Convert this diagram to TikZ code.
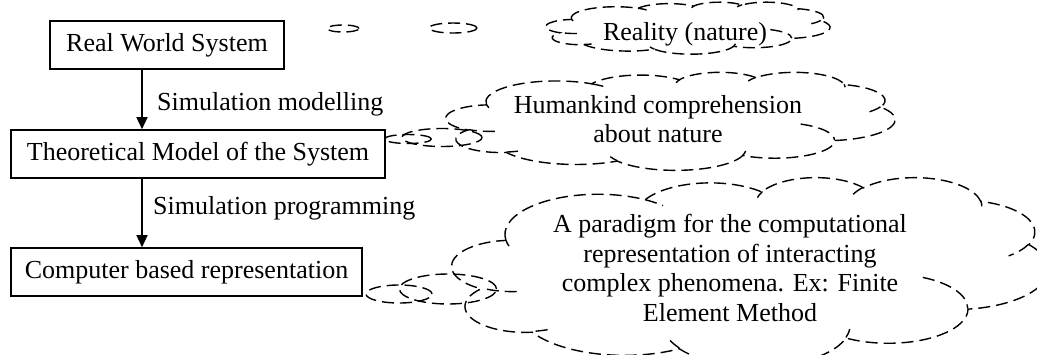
\documentclass[tikz,border=0pt]{standalone}
\usepackage{fontspec}
\setmainfont{Liberation Serif}
\usetikzlibrary{arrows.meta,shapes.geometric}

% One lobe of a cloud outline: elliptical arc with radii #1, #2 whose start and
% sweep (#3, #4, in degrees) are given as geometric angles seen from the centre.
\tikzset{
  lobe/.style n args={4}{
    x radius=#1, y radius=#2,
    start angle={atan2((#1)*sin(#3), (#2)*cos(#3))},
    delta angle={mod(atan2((#1)*sin((#3)+(#4)), (#2)*cos((#3)+(#4)))
                 - atan2((#1)*sin(#3), (#2)*cos(#3)) + 720, 360)}
  }
}

% Dashed thought cloud filling the box with top-left corner (#1,#2), width #3, height #4.
\newcommand\thoughtcloud[4]{%
  \begin{scope}[shift={(#1,#2)}, xscale=#3/432, yscale=#4/432]
    \draw[dashline] (39,143.7)
      arc[lobe={67.53}{91.90}{-190.4875}{123.7805}]
      arc[lobe={53.33}{72.67}{-144.1024}{89.9452}]
      arc[lobe={43.65}{59.45}{-145.8079}{99.7230}]
      arc[lobe={48.57}{65.95}{-130.9861}{117.2417}]
      arc[lobe={53.33}{72.73}{-78.7089}{109.0269}]
      arc[lobe={67.75}{92.20}{-46.2673}{130.2690}]
      arc[lobe={57.85}{78.67}{0.6250}{114.0333}]
      arc[lobe={67.52}{92.15}{22.4516}{115.1726}]
      arc[lobe={77.20}{105.43}{66.2426}{75.7110}]
      arc[lobe={43.60}{59.18}{-274.9421}{146.7356}]
      arc[lobe={43.45}{59.45}{-246.8285}{152.5189}]
      -- cycle;
    % short inner arcs where neighbouring lobes meet
    \draw[dashline]
      (46.93,261.77) arc[lobe={43.45}{59.45}{86.7420}{26.4295}]
      (69.28,348.99) arc[lobe={43.60}{59.18}{73.6105}{11.4475}]
      (164.78,390.90) arc[lobe={67.52}{92.15}{137.6242}{14.0811}]
      (288.27,347.51) arc[lobe={67.52}{92.15}{6.4533}{15.9984}]
      (341.29,229.54) arc[lobe={57.85}{78.67}{-70.2924}{70.9174}]
      (417.98,153.54) arc[lobe={53.33}{72.73}{30.3180}{27.7515}]
      (383.24,54.26) arc[lobe={48.57}{65.95}{-13.7443}{14.8589}]
      (290.78,39.52) arc[lobe={48.57}{65.95}{-149.1815}{18.1954}]
      (221.41,47.20) arc[lobe={43.65}{59.45}{-163.4943}{17.6864}]
      (140.00,51.92) arc[lobe={67.53}{91.90}{-66.7070}{12.3194}]
      (41.27,157.89) arc[lobe={67.53}{91.90}{157.6544}{11.8582}];
  \end{scope}}

\begin{document}
\begin{tikzpicture}[x=1pt,y=-1pt,
  every node/.style={font=\fontsize{26}{29.5}\selectfont, inner sep=0pt},
  stagebox/.style={draw, line width=1.6pt, minimum height=48pt},
  flow/.style={line width=1.5pt, -{Triangle[length=12pt,width=11pt]}},
  dashline/.style={line width=1.4pt, dash pattern=on 12pt off 6pt},
  bubble/.style={draw, dashline, ellipse},
  caption/.style={anchor=base west},
]
\useasboundingbox (0,0) rectangle (1037,354);

% process chain
\node[stagebox, minimum width=234pt] (world) at (167,45) {Real World System};
\node[stagebox, minimum width=374pt] (model) at (198,154) {Theoretical Model of the System};
\node[stagebox, minimum width=351pt] (comp) at (186.5,272) {Computer based representation};

\coordinate (axis) at (142,0);
\draw[flow] (world.south -| axis) -- (model.north -| axis);
\draw[flow] (model.south -| axis) -- (comp.north -| axis);
\node[caption] (lab1) at (157,110) {Simulation modelling};
\node[caption] (lab2) at (153,214) {Simulation programming};

% thought clouds with their trailing bubbles
\thoughtcloud{546}{2}{284}{52}
\node[bubble, minimum width=32pt, minimum height=7pt] (rb1) at (343,28.5) {};
\node[bubble, minimum width=48pt, minimum height=10pt] (rb2) at (453,28) {};
\node[anchor=base] (realtxt) at (685,40) {Reality (nature)};

\thoughtcloud{446}{72}{449}{98}
\node[bubble, minimum width=47pt, minimum height=9pt] (hb1) at (408,139) {};
\node[bubble, minimum width=80pt, minimum height=18pt] (hb2) at (442,137.5) {};
\node[align=center] (humantxt) at (658,119) {Humankind comprehension\\about nature};

\thoughtcloud{452}{177}{596}{189}
\node[bubble, minimum width=66pt, minimum height=18pt] (fb1) at (399,294) {};
\node[bubble, minimum width=97pt, minimum height=30pt] (fb2) at (448,289) {};
\node[align=center] (femtxt) at (730,268) {A paradigm for the computational\\representation of interacting\\complex phenomena. Ex: Finite\\Element Method};
\end{tikzpicture}
\end{document}
